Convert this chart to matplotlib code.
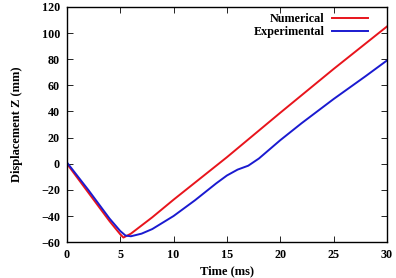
import numpy as np
import matplotlib
matplotlib.use('Agg')
import matplotlib.pyplot as plt

# data (time in ms, displacement in mm)
t_num = [0, 1, 2, 3, 4, 5, 5.3, 6, 8, 10, 12, 15, 20, 25, 30]
z_num = [0, -11, -22, -33, -44, -54, -56.5, -53.5, -41, -27.5, -14.5, 5, 39, 72.5, 105]

t_exp = [0, 1, 2, 3, 4, 5, 5.5, 6, 7, 8, 10, 12, 13, 14, 15, 16, 17, 18, 20, 22, 25, 28, 30]
z_exp = [1, -9.5, -20, -31, -42, -51.5, -55, -55.5, -53.5, -50, -40, -28, -21.5, -15, -9, -4.5, -1.5, 4, 18, 31, 49.5, 67, 79]

xticks = [0, 5, 10, 15, 20, 25, 30]
yticks = [-60, -40, -20, 0, 20, 40, 60, 80, 100, 120]

plt.rcParams['font.family'] = ['Liberation Serif', 'DejaVu Serif']
plt.rcParams['font.weight'] = 'bold'

fig = plt.figure(figsize=(3.96, 2.78), dpi=100)
ax = fig.add_axes([0.169, 0.129, 0.808, 0.846])

ax.plot(t_num, z_num, color='#e8141c', lw=1.4, label='Numerical')
ax.plot(t_exp, z_exp, color='#1a1ad0', lw=1.4, label='Experimental')

ax.set_xlim(0, 30)
ax.set_ylim(-60, 120)
ax.set_xticks(xticks)
ax.set_yticks(yticks)
ax.tick_params(direction='in', top=True, right=True, length=4, width=0.6, labelsize=8.7, pad=5)
for lab in ax.get_xticklabels() + ax.get_yticklabels():
    lab.set_fontweight('bold')
for s in ax.spines.values():
    s.set_linewidth(1.0)

ax.set_xlabel('Time (ms)', fontsize=9, fontweight='bold', labelpad=3)
ax.set_ylabel('Displacement Z (mm)', fontsize=9, fontweight='bold', labelpad=13)

ax.legend(loc='upper right', bbox_to_anchor=(0.975, 1.02), frameon=False, markerfirst=False,
          handlelength=3.0, handletextpad=0.6, labelspacing=0.1,
          prop={'size': 8.7, 'weight': 'bold'})

fig.savefig('out.png', dpi=100)
